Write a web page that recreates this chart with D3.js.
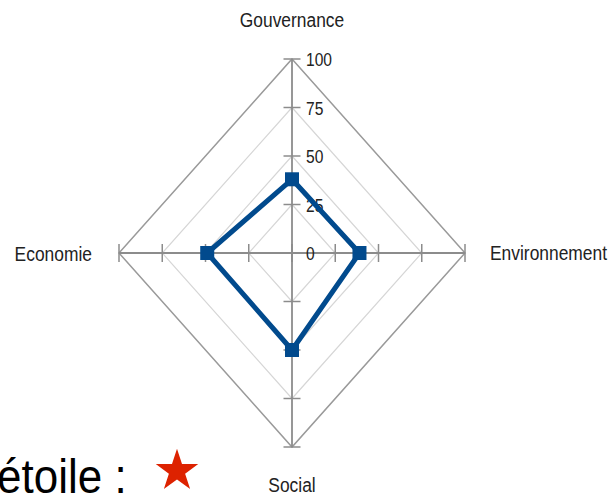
<!DOCTYPE html>
<html>
<head>
<meta charset="utf-8">
<script src="https://cdn.jsdelivr.net/npm/d3@7"></script>
<style>
  body { margin: 0; background: #fff; overflow: hidden; }
  text { font-family: "Liberation Sans", Arial, sans-serif; fill: #222; }
</style>
</head>
<body>
<script>
// Données du radar
const axes = ["Gouvernance", "Environnement", "Social", "Economie"];
const values = [38, 39, 50, 49];
const tickValues = [0, 25, 50, 75, 100];
const caption = "étoile :";

const width = 609,
  height = 495;
const cx = 292,
  cy = 253;

const svg = d3.select("body").append("svg").attr("width", width).attr("height", height);

// échelles (le graphique est un peu étiré verticalement)
const rx = d3.scaleLinear().domain([0, 100]).range([0, 173]);
const ry = d3.scaleLinear().domain([0, 100]).range([0, 194]);
const angle = d3.scalePoint().domain(axes).range([-Math.PI / 2, Math.PI]);

function pt(axis, v) {
  const a = angle(axis);
  return [cx + Math.cos(a) * rx(v), cy + Math.sin(a) * ry(v)];
}

// anneaux de la grille
tickValues
  .filter((t) => t > 0)
  .forEach((t) => {
    svg
      .append("polygon")
      .attr("points", axes.map((a) => pt(a, t).join(",")).join(" "))
      .attr("fill", "none")
      .attr("stroke", t === 100 ? "#9a9a9a" : "#d6d6d6")
      .attr("stroke-width", t === 100 ? 1.5 : 1.2);
  });

// axes + graduations
axes.forEach((a) => {
  const end = pt(a, 100);
  svg
    .append("line")
    .attr("x1", cx)
    .attr("y1", cy)
    .attr("x2", end[0])
    .attr("y2", end[1])
    .attr("stroke", "#8c8c8c")
    .attr("stroke-width", 1.8);

  const vertical = Math.abs(Math.cos(angle(a))) < 0.5;
  tickValues.forEach((t) => {
    const p = pt(a, t);
    svg
      .append("line")
      .attr("x1", vertical ? p[0] - 8.5 : p[0])
      .attr("x2", vertical ? p[0] + 8.5 : p[0])
      .attr("y1", vertical ? p[1] : p[1] - 9)
      .attr("y2", vertical ? p[1] : p[1] + 9)
      .attr("stroke", "#8c8c8c")
      .attr("stroke-width", 1.5);
  });
});

// étiquettes des graduations (axe Gouvernance)
tickValues.forEach((t) => {
  const p = pt(axes[0], t);
  svg
    .append("text")
    .attr("transform", `translate(${p[0] + 14},${p[1] + 7}) scale(1,1.2)`)
    .style("font-size", "15.6px")
    .text(t);
});

// noms des axes
const labelPos = {
  Gouvernance: { dx: 0, dy: -32, anchor: "middle" },
  Environnement: { dx: 25, dy: 7, anchor: "start" },
  Social: { dx: 0, dy: 45, anchor: "middle" },
  Economie: { dx: -27, dy: 8, anchor: "end" }
};
axes.forEach((a) => {
  const p = pt(a, 100);
  const l = labelPos[a];
  svg
    .append("text")
    .attr("transform", `translate(${p[0] + l.dx},${p[1] + l.dy}) scale(1,1.15)`)
    .attr("text-anchor", l.anchor)
    .style("font-size", "17.4px")
    .text(a);
});

// série
const points = axes.map((a, i) => pt(a, values[i]));
svg
  .append("path")
  .attr("d", d3.line().curve(d3.curveLinearClosed)(points))
  .attr("fill", "none")
  .attr("stroke", "#014a8d")
  .attr("stroke-width", 5)
  .attr("stroke-linejoin", "round");

svg
  .selectAll("rect.marker")
  .data(points)
  .enter()
  .append("rect")
  .attr("class", "marker")
  .attr("x", (d) => d[0] - 7)
  .attr("y", (d) => d[1] - 7)
  .attr("width", 14)
  .attr("height", 14)
  .attr("fill", "#014a8d");

// texte superposé en bas à gauche + étoile
svg
  .append("text")
  .attr("transform", "translate(-3,493) scale(1,1.1)")
  .style("font-size", "44px")
  .style("fill", "#000")
  .text(caption);

svg
  .append("path")
  .attr("d", d3.symbol().type(d3.symbolStar).size(560)())
  .attr("transform", "translate(177,471)")
  .attr("fill", "#dd2200");
</script>
</body>
</html>
